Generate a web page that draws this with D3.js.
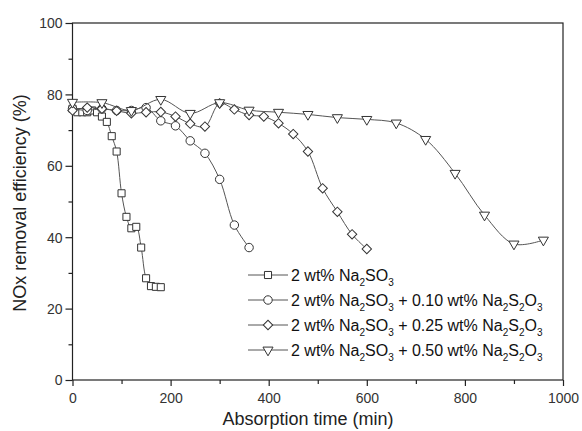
<!DOCTYPE html>
<html>
<head>
<meta charset="utf-8">
<script src="https://cdn.jsdelivr.net/npm/d3@7"></script>
<style>
  html, body { margin: 0; background: #fff; overflow: hidden; }
  svg { font-family: 'Liberation Sans', Arial, sans-serif; display: block; }
</style>
<script>
// absorption time (min) and NOx removal efficiency (%) for each solution
const timeNa2SO3 = [0, 10, 20, 30, 40, 50, 60, 70, 80, 90, 100, 110, 120, 130, 140, 150, 160, 170, 180];
const effNa2SO3 = [76, 75, 75, 75, 75.5, 75, 73.8, 72.3, 68.3, 64, 52.3, 45.7, 42.5, 42.9, 37.1, 28.5, 26.3, 26.1, 26];

const time010 = [0, 30, 60, 90, 120, 150, 180, 210, 240, 270, 300, 330, 360];
const eff010 = [76, 75.5, 76, 75.5, 75.5, 76.3, 72.6, 71.2, 67, 63.5, 56.2, 43.4, 37.1];

const time025 = [0, 30, 60, 90, 120, 150, 180, 210, 240, 270, 300, 330, 360, 390, 420, 450, 480, 510, 540, 570, 600];
const eff025 = [75.5, 76.3, 76, 75.4, 74.7, 75, 75.1, 73.8, 71.8, 71, 77.5, 75.8, 74.2, 73.8, 71.9, 68.9, 64, 53.7, 47.1, 40.8, 36.7];

const time050 = [0, 60, 120, 180, 240, 300, 360, 420, 480, 540, 600, 660, 720, 780, 840, 900, 960];
const eff050 = [77.8, 77.7, 75.5, 78.6, 74.7, 77.7, 75.6, 75, 74.4, 73.5, 73, 72, 67.4, 57.9, 46.2, 38.1, 39.2];

const xTicks = [0, 200, 400, 600, 800, 1000];
const yTicks = [0, 20, 40, 60, 80, 100];

// legend labels: odd entries are subscripts
const series = [
  { label: ['2 wt% Na', '2', 'SO', '3'], x: timeNa2SO3, y: effNa2SO3, symbol: 'square' },
  { label: ['2 wt% Na', '2', 'SO', '3', ' + 0.10 wt% Na', '2', 'S', '2', 'O', '3'], x: time010, y: eff010, symbol: 'circle' },
  { label: ['2 wt% Na', '2', 'SO', '3', ' + 0.25 wt% Na', '2', 'S', '2', 'O', '3'], x: time025, y: eff025, symbol: 'diamond' },
  { label: ['2 wt% Na', '2', 'SO', '3', ' + 0.50 wt% Na', '2', 'S', '2', 'O', '3'], x: time050, y: eff050, symbol: 'triangle' }
];

const drawChart = () => {
  const width = 582, height = 431;
  const margin = { top: 23, right: 19, bottom: 51, left: 72.5 };
  const innerWidth = width - margin.left - margin.right;
  const innerHeight = height - margin.top - margin.bottom;

  const svg = d3.select('.chart').append('svg')
    .attr('width', width)
    .attr('height', height);

  const g = svg.append('g')
    .attr('transform', `translate(${margin.left}, ${margin.top})`);

  const x = d3.scaleLinear().domain([0, 1000]).range([0, innerWidth]);
  const y = d3.scaleLinear().domain([0, 100]).range([innerHeight, 0]);

  const ink = '#222';
  const lineColor = '#555';

  // marker shapes
  const markerPath = (kind) => {
    if (kind === 'square') return d3.symbol(d3.symbolSquare, 50)();
    if (kind === 'circle') return d3.symbol(d3.symbolCircle, 56)();
    if (kind === 'diamond') return d3.symbol(d3.symbolSquare, 44)();
    return d3.symbol(d3.symbolTriangle, 44)();
  };
  const markerRotate = (kind) => kind === 'diamond' ? 45 : kind === 'triangle' ? 180 : 0;

  // frame
  g.append('rect')
    .attr('width', innerWidth)
    .attr('height', innerHeight)
    .attr('fill', 'none')
    .attr('stroke', ink)
    .attr('stroke-width', 1.2);

  // axes (ticks pointing out)
  const xAxis = g.append('g')
    .attr('transform', `translate(0, ${innerHeight})`)
    .call(d3.axisBottom(x).tickValues(d3.range(0, 1001, 100)).tickSize(5).tickFormat(d => xTicks.includes(d) ? d : ''));
  xAxis.selectAll('.tick line').attr('y2', d => xTicks.includes(d) ? 6 : 4);

  const yAxis = g.append('g')
    .call(d3.axisLeft(y).tickValues(d3.range(0, 101, 10)).tickSize(5).tickFormat(d => yTicks.includes(d) ? d : ''));
  yAxis.selectAll('.tick line').attr('x2', d => yTicks.includes(d) ? -7 : -4);

  [xAxis, yAxis].forEach(ax => {
    ax.select('.domain').remove();
    ax.selectAll('.tick line').attr('stroke', ink).attr('stroke-width', 1.2);
    ax.selectAll('.tick text').filter(function () { return this.textContent === ''; }).remove();
    ax.selectAll('text').attr('font-size', 14).attr('fill', '#333').attr('font-family', "'Liberation Sans', Arial, sans-serif");
  });
  xAxis.selectAll('text').attr('y', 0).attr('dy', 23);
  yAxis.selectAll('text').attr('x', -10).attr('dy', '0.35em');

  // axis titles
  svg.append('text')
    .attr('x', 308)
    .attr('y', 425)
    .attr('text-anchor', 'middle')
    .attr('font-size', 18)
    .attr('fill', '#222')
    .text('Absorption time (min)');

  svg.append('text')
    .attr('transform', 'translate(26, 203) rotate(-90)')
    .attr('text-anchor', 'middle')
    .attr('font-size', 18)
    .attr('fill', '#222')
    .text('NOx removal efficiency (%)');

  // lines + markers
  const line = d3.line()
    .x(d => x(d[0]))
    .y(d => y(d[1]))
    .curve(d3.curveCatmullRom.alpha(0.5));

  series.forEach(s => {
    const pts = s.x.map((t, i) => [t, s.y[i]]);
    g.append('path')
      .datum(pts)
      .attr('d', line)
      .attr('fill', 'none')
      .attr('stroke', lineColor)
      .attr('stroke-width', 1);

    g.append('g')
      .selectAll('path')
      .data(pts)
      .enter()
      .append('path')
      .attr('d', markerPath(s.symbol))
      .attr('transform', d => `translate(${x(d[0])}, ${y(d[1])}) rotate(${markerRotate(s.symbol)})`)
      .attr('fill', '#fff')
      .attr('stroke', '#333')
      .attr('stroke-width', 1);
  });

  // legend
  const legend = svg.append('g')
    .attr('transform', 'translate(248, 275)')
    .selectAll('g')
    .data(series)
    .enter()
    .append('g')
    .attr('transform', (d, i) => `translate(0, ${i * 25})`);

  legend.append('line')
    .attr('x1', 0).attr('x2', 40)
    .attr('stroke', lineColor)
    .attr('stroke-width', 1);

  legend.append('path')
    .attr('d', d => markerPath(d.symbol))
    .attr('transform', d => `translate(20, 0) rotate(${markerRotate(d.symbol)})`)
    .attr('fill', '#fff')
    .attr('stroke', '#333')
    .attr('stroke-width', 1);

  // each label piece is its own text, placed after the previous one
  legend.each(function (d) {
    const row = d3.select(this);
    let cx = 43;
    d.label.forEach((part, i) => {
      const sub = i % 2 === 1;
      const t = row.append('text')
        .attr('x', cx)
        .attr('y', sub ? 11 : 6)
        .attr('font-size', sub ? 10 : 16)
        .attr('fill', '#111')
        .style('white-space', 'pre')
        .text(part);
      cx += t.node().getComputedTextLength();
    });
  });
};

window.addEventListener('DOMContentLoaded', drawChart);
</script>
</head>
<body>
<div class="chart"></div>
</body>
</html>
